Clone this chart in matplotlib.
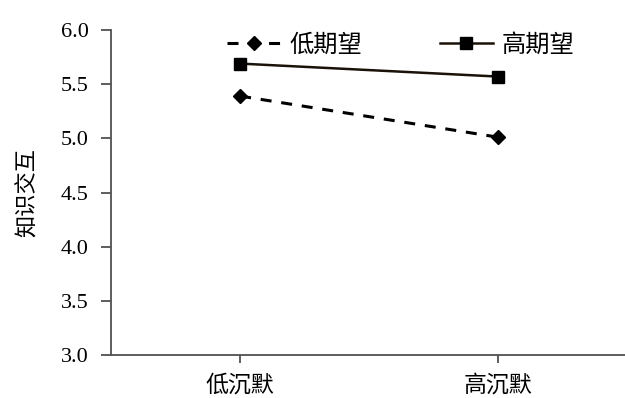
import matplotlib
matplotlib.use("Agg")
from matplotlib import pyplot as plt

plt.rcParams['font.family'] = ['Liberation Serif', 'Noto Sans CJK SC']

# data
groups = ["低沉默", "高沉默"]
low_expect = [5.39, 5.01]
high_expect = [5.69, 5.57]
series_names = ["低期望", "高期望"]
y_ticks = [3.0, 3.5, 4.0, 4.5, 5.0, 5.5, 6.0]

axis_color = "#505050"

fig = plt.figure(figsize=(6.25, 3.98), dpi=100)
ax = fig.add_axes([0.1776, 0.108, 0.8224, 0.8166])

x = list(range(len(groups)))
ax.plot(x, low_expect, color="black", lw=2.2, dashes=(3.6, 3.2),
        marker="D", ms=7, label=series_names[0])
ax.plot(x, high_expect, color="#1a1208", lw=1.8, marker="s", ms=9,
        markerfacecolor="black", markeredgecolor="black", label=series_names[1])

ax.set_xlim(-0.5, 1.49)
ax.set_ylim(3.0, 6.0)
ax.set_yticks(y_ticks)
ax.set_yticklabels([f"{v:.1f}" for v in y_ticks], fontsize=16)
ax.set_xticks(x)
ax.set_xticklabels(groups, fontsize=16.5)
ax.set_ylabel("知识交互", fontsize=16, labelpad=16)

for side in ["top", "right"]:
    ax.spines[side].set_visible(False)
for side in ["left", "bottom"]:
    ax.spines[side].set_color(axis_color)
    ax.spines[side].set_linewidth(1.3)
ax.tick_params(axis="y", direction="out", length=7, width=1.3, color=axis_color, pad=9)
ax.tick_params(axis="x", direction="out", length=6, width=1.3, color=axis_color, pad=8)

fig.legend(loc="center", bbox_to_anchor=(0.641, 0.887), ncol=2, frameon=False,
           fontsize=17.5, handlelength=2.2, handletextpad=0.35, columnspacing=3.2)

fig.savefig("out.png", dpi=100)
